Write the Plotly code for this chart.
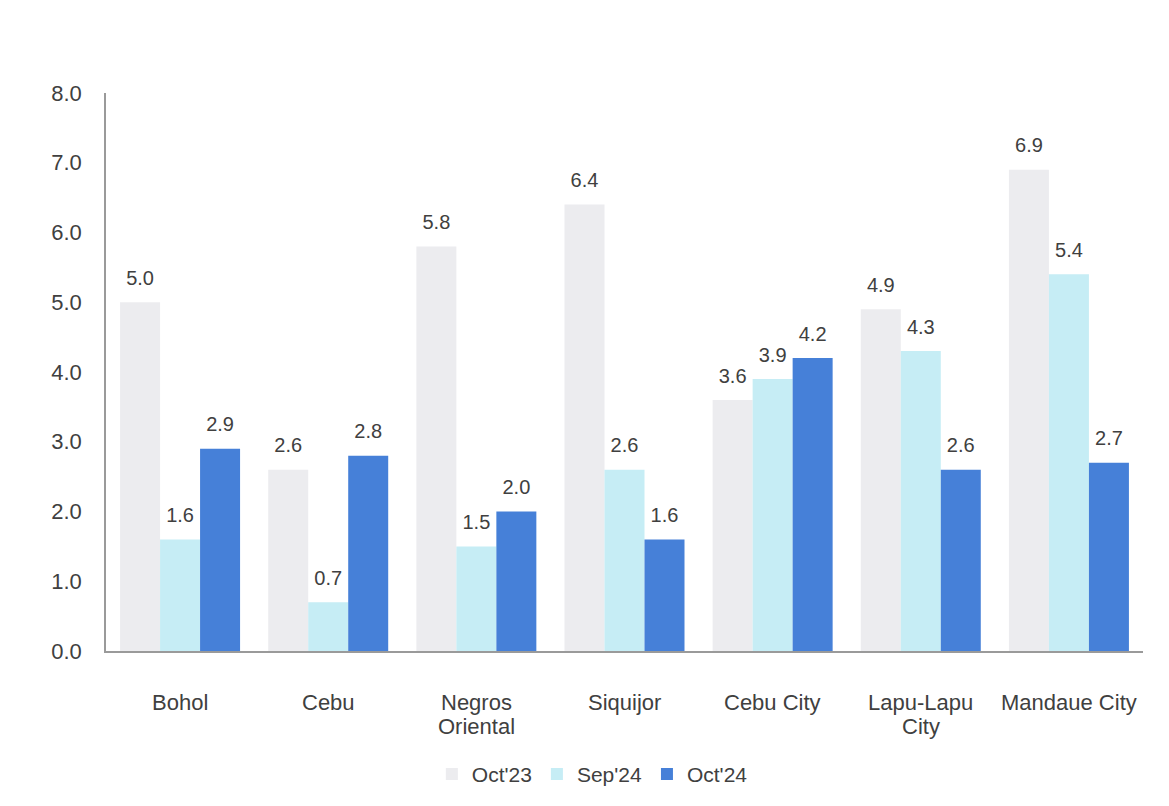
import plotly.graph_objects as go

# Provinces / cities and the three reference months
categories = ["Bohol", "Cebu", "Negros\nOriental", "Siquijor", "Cebu City", "Lapu-Lapu\nCity", "Mandaue City"]
oct23 = [5.0, 2.6, 5.8, 6.4, 3.6, 4.9, 6.9]
sep24 = [1.6, 0.7, 1.5, 2.6, 3.9, 4.3, 5.4]
oct24 = [2.9, 2.8, 2.0, 1.6, 4.2, 2.6, 2.7]
y_ticks = [0, 1, 2, 3, 4, 5, 6, 7, 8]

series = [
    ("Oct'23", oct23, "#ECECEF"),
    ("Sep'24", sep24, "#C6EDF5"),
    ("Oct'24", oct24, "#4680D8"),
]

FONT = "Liberation Sans, Arial, sans-serif"
TEXT = "#404040"

fig = go.Figure()
for name, vals, color in series:
    fig.add_trace(go.Bar(
        x=categories, y=vals, name=name,
        offsetgroup=name, alignmentgroup="g",
        marker=dict(color=color, line=dict(width=0)),
    ))
# value labels floating a little above each bar
for name, vals, color in series:
    fig.add_trace(go.Scatter(
        x=categories, y=vals, name=name,
        offsetgroup=name, alignmentgroup="g",
        mode="markers+text", showlegend=False, hoverinfo="skip",
        marker=dict(size=18, opacity=0),
        text=[f"{v:.1f}" for v in vals],
        textposition="top center",
        textfont=dict(family=FONT, size=20, color=TEXT),
        cliponaxis=False,
    ))

# category labels under the axis, with tight line spacing
annotations = []
for cat in categories:
    for k, line in enumerate(cat.split("\n")):
        annotations.append(dict(
            x=cat, xref="x", y=0, yref="paper",
            text=line, showarrow=False,
            yanchor="middle", yshift=-51 - 24 * k,
            font=dict(family=FONT, size=22, color=TEXT),
        ))

fig.update_layout(
    width=1169, height=806,
    paper_bgcolor="white", plot_bgcolor="white",
    barmode="group", scattermode="group",
    bargap=0.19, bargroupgap=0, scattergap=0.19,
    margin=dict(l=106, r=26, t=93, b=154),
    font=dict(family=FONT, size=22, color=TEXT),
    showlegend=True,
    legend=dict(
        orientation="h", x=0.469, xanchor="center", y=-0.219, yanchor="middle",
        font=dict(family=FONT, size=21, color=TEXT),
        itemwidth=30, traceorder="normal",
    ),
    annotations=annotations,
)
fig.update_xaxes(
    showline=True, linecolor="#9A9A9A", linewidth=1.5,
    ticks="", showgrid=False, showticklabels=False,
)
fig.update_yaxes(
    range=[0, 8], tickvals=y_ticks, tickformat=".1f",
    showline=True, linecolor="#9A9A9A", linewidth=1.5,
    showgrid=False, zeroline=False, ticks="", ticklabelstandoff=18,
    tickfont=dict(family=FONT, size=22, color=TEXT),
)

fig.write_html("out.html")
